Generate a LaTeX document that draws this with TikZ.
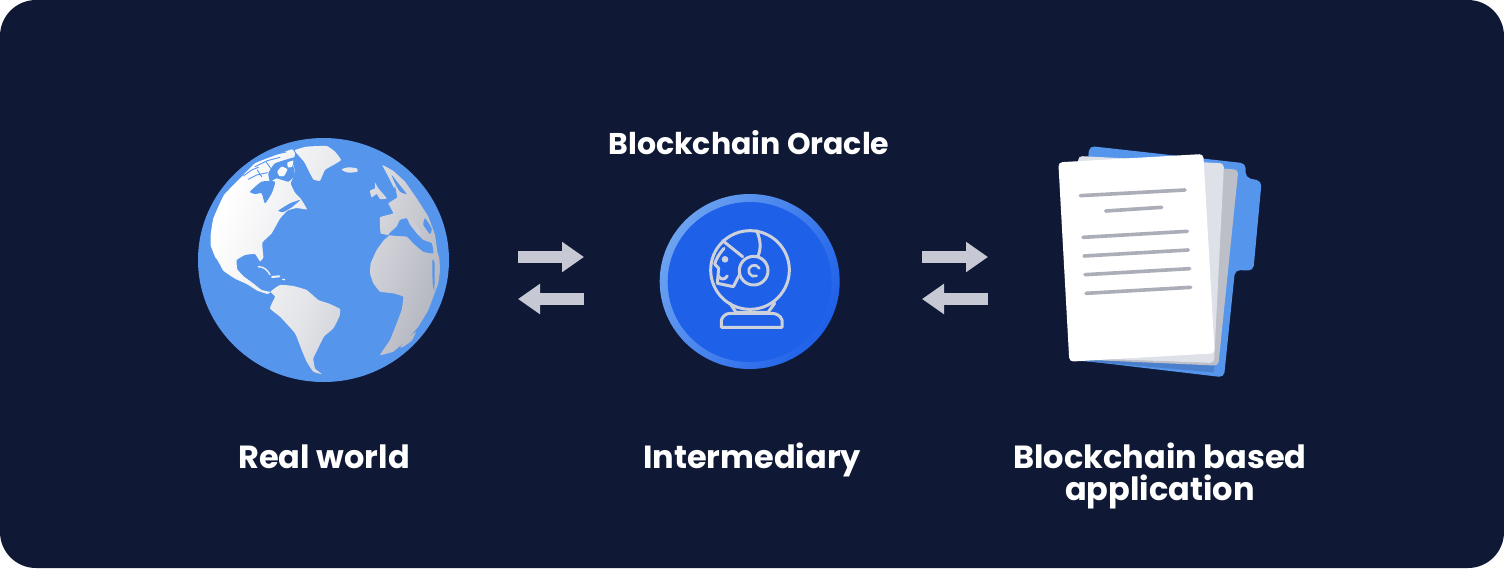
\documentclass[tikz,border=0pt]{standalone}
\usepackage{fontspec}
\setmainfont{Poppins}
\usetikzlibrary{arrows.meta}
\definecolor{bgnavy}{HTML}{0F1935}
\definecolor{oceanblue}{HTML}{5595EC}
\definecolor{landgrey}{HTML}{B6B8C2}
\definecolor{ringblue}{HTML}{6BA3F0}
\definecolor{coreblue}{HTML}{1F60E9}
\definecolor{icongrey}{HTML}{CDD1DB}
\definecolor{arrowgrey}{HTML}{C6C9D4}
\definecolor{pagegreyA}{HTML}{BCBEC8}
\definecolor{pagegreyB}{HTML}{DFE1E9}
\definecolor{inkgrey}{HTML}{ABADB8}
\definecolor{shadeblue}{HTML}{4A7FCB}
\tikzset{
  x=1pt,y=-1pt,
  labeltext/.style={text=white,font=\bfseries\fontsize{32}{32}\selectfont,inner sep=0pt,anchor=base},
  titletext/.style={text=white,font=\bfseries\fontsize{30}{32}\selectfont,inner sep=0pt,anchor=base},
  flowarrow/.style={draw=arrowgrey,line width=12pt,-{Triangle[length=22pt,width=29pt]}},
  textline/.style={draw=inkgrey,line width=3.6pt,line cap=round},
  iconline/.style={draw=icongrey,line width=3pt,line join=round,line cap=round},
  seahole/.style={fill=oceanblue,draw=none},
  seachannel/.style={draw=oceanblue,line width=0.9pt,line cap=round},
  zoomA/.style={shift={(180,120)},scale=0.33333},
  zoomD/.style={shift={(700,220)},scale=0.33333},
  zoomC/.style={shift={(1040,135)},scale=0.33333},
}
\begin{document}
\begin{tikzpicture}
\useasboundingbox (0,0) rectangle (1504,568);
\fill[white] (0,0) rectangle (1504,568);
\fill[bgnavy,rounded corners=36pt] (0,0) rectangle (1504,568);

% globe
\fill[oceanblue] (323.5,260) ellipse [x radius=125.5,y radius=122];
\begin{scope}[zoomA]
\shade[left color=white,right color=landgrey,middle color=white!62!landgrey,shading angle=70]
 % North America with the arctic
 plot[smooth cycle,tension=0.2] coordinates {(92,345)(100,295)(132,225)(185,170)(225,130)(280,108)(335,88)(345,100)(340,130)(345,160)(332,190)(345,218)(362,236)(381,268)(350,264)(322,272)(300,296)(275,340)(247,368)(250,412)(240,424)(225,402)(195,405)(170,420)(172,448)(192,470)(203,478)(222,492)(245,510)(272,516)(262,522)(232,512)(200,492)(165,476)(130,452)(105,410)(92,376)}
 % Greenland
 plot[smooth cycle,tension=0.25] coordinates {(345,90)(380,80)(440,78)(465,95)(483,120)(460,135)(435,150)(420,182)(400,178)(385,150)(372,125)(350,100)}
 % Iceland
 plot[smooth cycle,tension=0.4] coordinates {(485,148)(505,142)(530,145)(532,155)(510,158)(495,155)}
 % South America
 plot[smooth cycle,tension=0.25] coordinates {(272,515)(300,495)(340,498)(380,510)(415,540)(445,550)(480,567)(478,590)(460,625)(432,650)(412,690)(400,715)(405,745)(425,762)(400,755)(380,725)(365,690)(345,640)(300,590)(270,565)(285,530)}
 % Africa joined to Eurasia
 plot[smooth cycle,tension=0.15] coordinates {(607,135)(640,153)(675,185)(710,235)(745,290)(765,345)(772,395)(778,415)(780,450)(775,490)(762,525)(745,570)(715,620)(680,660)(640,695)(600,705)(630,660)(650,610)(665,570)(670,530)(640,520)(600,515)(580,490)(570,460)(572,430)(590,390)(612,360)(628,346)(602,340)(600,292)(640,280)(625,250)(652,232)(640,200)(625,170)}
 % Madagascar
 plot[smooth cycle,tension=0.3] coordinates {(660,682)(685,655)(708,635)(695,662)(670,680)}
 % Britain and Ireland
 plot[smooth cycle,tension=0.25] coordinates {(585,188)(595,205)(620,235)(600,237)(590,222)(575,232)(570,212)(585,205)};
% seas cut into the land
\fill[seahole] plot[smooth cycle,tension=0.3] coordinates {(210,215)(245,185)(285,185)(275,220)(255,250)(245,220)(225,222)};
\fill[seahole] plot[smooth cycle,tension=0.25] coordinates {(265,160)(285,130)(350,110)(360,120)(340,135)(345,165)(325,185)(290,175)(270,185)};
\fill[seahole] plot[smooth cycle,tension=0.3] coordinates {(295,272)(330,250)(360,240)(335,262)(310,276)};
% arctic islands
\fill[white!92!landgrey] plot[smooth cycle,tension=0.3] coordinates {(292,155)(305,140)(322,148)(312,168)(298,168)};
\fill[white!92!landgrey] plot[smooth cycle,tension=0.3] coordinates {(322,128)(340,122)(336,140)(324,142)};
\draw[seachannel] (190,168) -- (215,150) -- (235,142);
\draw[seachannel] (205,178) -- (230,165) -- (262,158);
\draw[seachannel] (225,140) -- (262,122) -- (300,112);
\draw[seachannel] (258,125) -- (272,145);
\draw[seachannel] (240,118) -- (275,105) -- (318,96);
\draw[seachannel] (232,150) -- (245,170);
% Mediterranean and neighbours
\fill[seahole] plot[smooth cycle,tension=0.25] coordinates {(625,345)(650,320)(660,300)(680,295)(690,315)(715,345)(730,360)(755,370)(760,400)(730,395)(700,370)(680,350)};
\fill[white!30!landgrey] plot[smooth cycle,tension=0.3] coordinates {(682,285)(700,300)(724,342)(715,345)(695,318)};
\fill[seahole] plot[smooth cycle,tension=0.3] coordinates {(735,295)(755,325)(750,342)(730,315)};
\fill[seahole] plot[smooth cycle,tension=0.3] coordinates {(635,165)(655,190)(680,222)(660,215)(645,190)};
\fill[seahole] plot[smooth cycle,tension=0.3] coordinates {(645,200)(650,225)(640,235)(640,215)};
\fill[seahole] plot[smooth cycle,tension=0.3] coordinates {(108,415)(120,435)(128,455)(115,440)};
\fill[seahole] plot[smooth cycle,tension=0.3] coordinates {(757,420)(764,430)(763,510)(758,490)};
% Caribbean islands
\draw[white!85!landgrey,line width=1.3pt,line cap=round] (235,440) .. controls (252,440) and (262,450) .. (270,464);
\draw[white!85!landgrey,line width=2pt,line cap=round] (276,471) -- (298,469);
\draw[white!85!landgrey,line width=1.2pt,line cap=round] (308,478) -- (314,479);
\end{scope}

% oracle badge
\shade[left color=ringblue,right color=coreblue,shading angle=60] (749.7,281.5) ellipse [x radius=90,y radius=87.5];
\fill[coreblue] (749.7,282) ellipse [x radius=82,y radius=80];
\begin{scope}[zoomD]
\draw[iconline] (150,150) circle (118);
\draw[iconline] (170,32) .. controls (182,60) and (184,85) .. (174,108);
\draw[iconline] (161,152) circle (43);
\draw[iconline,line width=2.6pt] (178,145) arc (-25:-295:17);
\draw[iconline] (68,62) -- (128,110);
\draw[iconline] (72,85) .. controls (58,100) and (48,118) .. (44,132) -- (56,145) -- (52,190) -- (100,200) -- (118,165);
\fill[icongrey] (75,118) circle (10);
\draw[iconline] (55,168) .. controls (62,180) and (74,180) .. (82,168);
\draw[iconline] (90,250) -- (108,277) -- (204,277) -- (224,250);
\draw[iconline] (64,322) -- (246,322) -- (246,300) .. controls (242,288) and (230,280) .. (216,280) -- (92,280) .. controls (78,280) and (68,288) .. (64,300) -- cycle;
\end{scope}

% document stack
\begin{scope}[zoomC]
\fill[oceanblue,rounded corners=5pt] (148,33) -- (617,85) -- (617,128) -- (665,138) -- (640,407) -- (585,405) -- (552,727) -- (85,672) -- cycle;
\fill[shadeblue] (100,676) -- (530,660) -- (520,712) -- cycle;
\fill[pagegreyA,rounded corners=4pt] (140,70) -- (595,104) -- (535,692) -- (90,672) -- cycle;
\fill[pagegreyB,rounded corners=4pt] (115,63) -- (552,85) -- (522,684) -- (90,668) -- cycle;
\fill[white,rounded corners=4pt] (55,82) -- (490,57) -- (524,655) -- (88,680) -- cycle;
\draw[textline] (121,182) -- (435,165);
\draw[textline] (197,228) -- (365,217);
\draw[textline] (129,307) -- (442,289);
\draw[textline] (132,363) -- (445,345);
\draw[textline] (135,419) -- (449,401);
\draw[textline] (138,475) -- (452,457);
\end{scope}

% exchange arrows
\coordinate (fromWorldA) at (518,257);
\coordinate (toOracleA) at (584,257);
\coordinate (fromOracleA) at (584,299);
\coordinate (toWorldA) at (518,299);
\coordinate (fromOracleB) at (922,257);
\coordinate (toAppB) at (988,257);
\coordinate (fromAppB) at (988,299);
\coordinate (toOracleB) at (922,299);
\draw[flowarrow] (fromWorldA) -- (toOracleA);
\draw[flowarrow] (fromOracleA) -- (toWorldA);
\draw[flowarrow] (fromOracleB) -- (toAppB);
\draw[flowarrow] (fromAppB) -- (toOracleB);

% labels
\node[titletext] (oracletitle) at (749,154) {Blockchain Oracle};
\node[labeltext] (realworld) at (324,468) {Real world};
\node[labeltext] (intermediary) at (752,468) {Intermediary};
\node[labeltext] (apptitleA) at (1160,468) {Blockchain based};
\node[labeltext] (apptitleB) at (1160,500) {application};
\end{tikzpicture}
\end{document}
